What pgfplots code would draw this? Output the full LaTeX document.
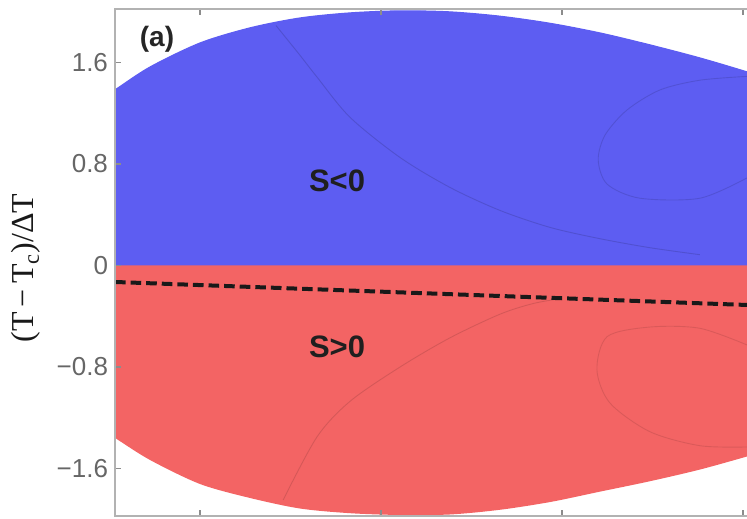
\documentclass[border=0pt]{standalone}
\usepackage{pgfplots}
\pgfplotsset{compat=1.18}
\usepackage{fontspec}
\setmainfont{Liberation Sans}
\newfontfamily\serifft{Liberation Serif}
\definecolor{sblue}{RGB}{93,93,242}
\definecolor{sred}{RGB}{243,100,100}
\begin{document}
\begin{tikzpicture}
\begin{axis}[
  at={(0,0)}, anchor=south west,
  scale only axis, width=322.5bp, height=253.5bp,
  xmin=0.530, xmax=4.094, ymin=-1.974, ymax=2.021,
  axis line style={black!30, line width=1bp},
  xtick={1,2,3,4}, xticklabels={},
  ytick={-1.6,-0.8,0,0.8,1.6},
  yticklabels={−1.6,−0.8,0,0.8,1.6},
  tick style={black!45, line width=0.8bp},
  major tick length=3bp,
  tick label style={font=\fontsize{13bp}{15bp}\selectfont, text=black!60},
  ylabel={(T\,−\,T\textsubscript{c})/ΔT},
  ylabel style={at={(axis description cs:-0.138,0.489)}, anchor=center, font=\serifft\fontsize{16bp}{18bp}\selectfont, text=black!90},
  axis on top,
]
% S<0 region (upper boundary)
\addplot[draw=sblue, line width=0.6bp, fill=sblue, smooth] coordinates {(0.45,1.31) (0.530,1.383) (0.724,1.564) (1.000,1.753) (1.276,1.872) (1.552,1.950) (1.829,1.990) (2.105,2.006) (2.381,1.998) (2.657,1.964) (2.934,1.908) (3.210,1.832) (3.486,1.738) (3.762,1.635) (4.022,1.525) (4.15,1.46)} \closedcycle;
% S>0 region (lower boundary)
\addplot[draw=none, fill=sred, smooth] coordinates {(0.45,-1.29) (0.530,-1.359) (0.724,-1.533) (1.000,-1.722) (1.276,-1.832) (1.552,-1.915) (1.829,-1.952) (2.105,-1.966) (2.381,-1.962) (2.657,-1.925) (2.934,-1.864) (3.210,-1.782) (3.486,-1.700) (3.762,-1.608) (4.022,-1.505) (4.15,-1.45)} \closedcycle;
% faint contour lines
\addplot[smooth, line width=0.45bp, color=sblue!60!black, opacity=0.35] coordinates {(1.42,1.89) (1.55,1.66) (1.646,1.485) (1.829,1.167) (2.105,0.851) (2.381,0.615) (2.657,0.434) (2.934,0.300) (3.210,0.211) (3.486,0.140) (3.762,0.085)};
\addplot[smooth, line width=0.45bp, color=sblue!60!black, opacity=0.3] coordinates {(4.022,1.49) (3.762,1.46) (3.541,1.383) (3.359,1.225) (3.238,1.028) (3.200,0.831) (3.250,0.640) (3.431,0.530) (3.762,0.530) (4.022,0.690)};
\addplot[smooth, line width=0.45bp, color=sred!60!black, opacity=0.3] coordinates {(1.459,-1.848) (1.646,-1.351) (1.829,-1.070) (2.105,-0.800) (2.381,-0.570) (2.657,-0.384) (2.840,-0.300) (2.989,-0.262)};
\addplot[smooth, line width=0.45bp, color=sred!60!black, opacity=0.25] coordinates {(4.022,-0.626) (3.762,-0.495) (3.486,-0.485) (3.250,-0.560) (3.193,-0.823) (3.265,-1.084) (3.486,-1.310) (3.762,-1.420) (4.022,-1.430)};
% dashed line
\addplot[black!90, line width=2bp, dash pattern=on 5.3bp off 2.5bp] coordinates {(0.530,-0.130) (4.094,-0.315)};
\node[font=\bfseries\fontsize{14bp}{16bp}\selectfont, text=black!85] at (axis cs:0.762,1.785) {(a)};
\node[font=\bfseries\fontsize{15.5bp}{18bp}\selectfont, text=black!88] at (axis cs:1.757,0.666) {S<0};
\node[font=\bfseries\fontsize{15.5bp}{18bp}\selectfont, text=black!88] at (axis cs:1.757,-0.642) {S>0};
\end{axis}
\pgfresetboundingbox
\useasboundingbox (-57.5bp,-1.5bp) rectangle (316bp,258bp);
\end{tikzpicture}
\end{document}
